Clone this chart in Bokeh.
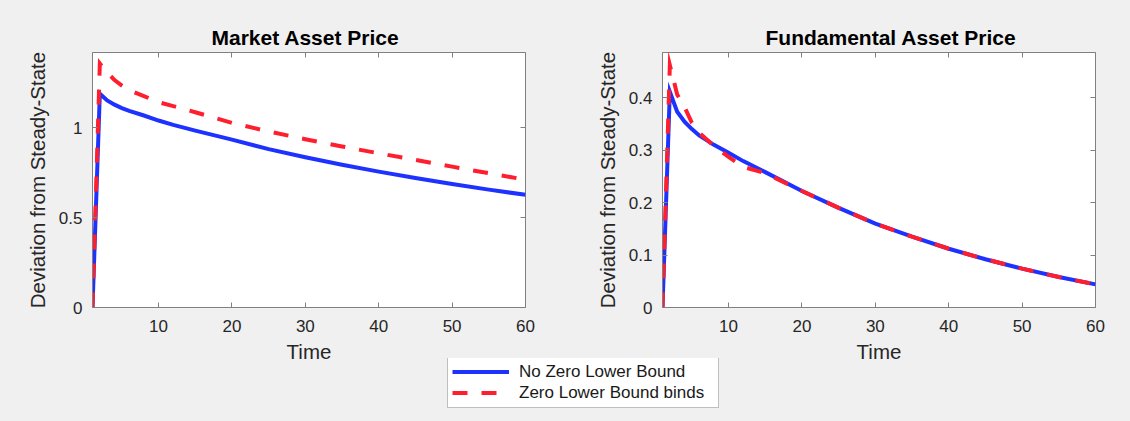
from bokeh.plotting import figure
from bokeh.layouts import row, column
from bokeh.models import Range1d, LinearAxis, FixedTicker, Legend, LegendItem
from bokeh.embed import file_html
from bokeh.resources import INLINE

# ---------------- data ----------------
time = [1, 2, 3, 4, 5, 6, 8, 10, 12, 15, 20, 25, 30, 35, 40, 45, 50, 55, 60]

market_no_zlb = [0, 1.188, 1.151, 1.127, 1.108, 1.093, 1.067, 1.039, 1.015, 0.983,
                 0.933, 0.880, 0.835, 0.793, 0.755, 0.720, 0.686, 0.655, 0.626]
market_zlb = [0, 1.356, 1.306, 1.264, 1.233, 1.207, 1.175, 1.141, 1.119, 1.085,
              1.026, 0.978, 0.935, 0.895, 0.857, 0.820, 0.783, 0.746, 0.710]

fund_no_zlb = [0, 0.411, 0.373, 0.354, 0.340, 0.328, 0.310, 0.295, 0.279, 0.258,
               0.222, 0.190, 0.160, 0.135, 0.112, 0.092, 0.074, 0.058, 0.044]
fund_zlb = [0, 0.462, 0.406, 0.382, 0.352, 0.333, 0.308, 0.287, 0.268, 0.256,
            0.222, 0.190, 0.160, 0.135, 0.112, 0.092, 0.074, 0.058, 0.044]

x_ticks = [10, 20, 30, 40, 50, 60]
market_y_ticks = [0, 0.5, 1]
market_y_labels = ["0", "0.5", "1"]
fund_y_ticks = [0, 0.1, 0.2, 0.3, 0.4]
fund_y_labels = ["0", "0.1", "0.2", "0.3", "0.4"]

titles = ["Market Asset Price", "Fundamental Asset Price"]
x_label = "Time"
y_label = "Deviation from Steady-State"
series_labels = ["No Zero Lower Bound", "Zero Lower Bound binds"]

# ---------------- style ----------------
BG = "#f0f0f0"
FONT = "Liberation Sans"
BLUE = "#1e32ff"
RED = "#ff1e2d"
AXC = "#808080"
TXT = "#262626"
ROW_H = 366
OVERLAP = 8


def make_panel(title, y_no, y_zlb, ymax, yticks, ylabels, width, left, right, toff):
    p = figure(width=width, height=ROW_H, x_range=Range1d(1, 60), y_range=Range1d(0, ymax),
               output_backend="svg", toolbar_location=None,
               min_border_left=left, min_border_right=right,
               min_border_top=52, min_border_bottom=ROW_H - 307,
               background_fill_color="white", border_fill_color=BG,
               outline_line_color=AXC, title=title)
    p.title.align = "left"
    p.title.text_font = FONT
    p.title.text_font_size = "21px"
    p.title.text_font_style = "bold"
    p.title.text_color = "black"
    p.title.offset = toff
    p.title.standoff = 7
    p.grid.visible = False

    xa = p.xaxis[0]
    xa.ticker = FixedTicker(ticks=x_ticks)
    xa.axis_label = x_label
    ya = p.yaxis[0]
    ya.ticker = FixedTicker(ticks=yticks)
    ya.major_label_overrides = {t: l for t, l in zip(yticks, ylabels)}
    ya.axis_label = y_label
    for ax in (xa, ya):
        ax.major_tick_in = 5
        ax.major_tick_out = 0
        ax.minor_tick_in = 0
        ax.minor_tick_out = 0
        ax.axis_line_color = AXC
        ax.major_tick_line_color = AXC
        ax.major_label_text_font = FONT
        ax.major_label_text_font_size = "17px"
        ax.major_label_text_color = TXT
        ax.axis_label_text_font = FONT
        ax.axis_label_text_font_size = "20.5px"
        ax.axis_label_text_font_style = "normal"
        ax.axis_label_text_color = TXT
    xa.major_label_standoff = 12
    xa.axis_label_standoff = 5
    ya.major_label_standoff = 10
    ya.axis_label_standoff = 7

    top = LinearAxis(ticker=FixedTicker(ticks=x_ticks))
    right_ax = LinearAxis(ticker=FixedTicker(ticks=yticks))
    for ax in (top, right_ax):
        ax.major_label_text_font_size = "1px"
        ax.major_label_text_alpha = 0
        ax.major_label_standoff = 0
        ax.major_tick_in = 5
        ax.major_tick_out = 0
        ax.minor_tick_in = 0
        ax.minor_tick_out = 0
        ax.axis_line_color = None
        ax.major_tick_line_color = AXC
    p.add_layout(top, "above")
    p.add_layout(right_ax, "right")

    p.line(time, y_no, color=BLUE, line_width=4, line_join="miter")
    p.line(time, y_zlb, color=RED, line_width=4, line_dash="15 14", line_join="miter")
    return p


f1 = make_panel(titles[0], market_no_zlb, market_zlb, 1.417, market_y_ticks, market_y_labels,
                565, 92, 40, 119)
f2 = make_panel(titles[1], fund_no_zlb, fund_zlb, 0.486, fund_y_ticks, fund_y_labels,
                565, 97, 35, 103)

# legend strip (transparent, slightly overlapping the panels' bottom margin)
LEG_H = 421 - ROW_H + OVERLAP
f3 = figure(width=1130, height=LEG_H, x_range=Range1d(0, 1), y_range=Range1d(0, 1),
            output_backend="svg", toolbar_location=None, x_axis_type=None, y_axis_type=None,
            min_border=0, border_fill_color=BG, border_fill_alpha=0,
            background_fill_color=BG, background_fill_alpha=0,
            outline_line_color=None, styles={"margin-top": f"-{OVERLAP}px"})
f3.grid.visible = False
# hidden swatch renderers (data outside the visible range, only used by the legend)
r1 = f3.line(x=[5, 6], y=[5, 6], color=BLUE, line_width=4)
r2 = f3.line(x=[5, 6], y=[5, 6], color=RED, line_width=4, line_dash="15 14")
legend = Legend(items=[LegendItem(label=series_labels[0], renderers=[r1]),
                       LegendItem(label=series_labels[1], renderers=[r2])],
                location=(447, LEG_H - 50 - 0), padding=4, spacing=0,
                label_height=21, glyph_height=21, glyph_width=57,
                label_standoff=10, label_width=195, margin=0,
                border_line_color=AXC, border_line_width=1,
                background_fill_color="white", background_fill_alpha=1,
                label_text_font=FONT, label_text_font_size="17px",
                label_text_color="#1a1a1a")
f3.add_layout(legend)

layout = column(row(f1, f2, styles={"background-color": BG}), f3,
                styles={"background-color": BG})
open("out.html", "w").write(file_html(layout, INLINE))
